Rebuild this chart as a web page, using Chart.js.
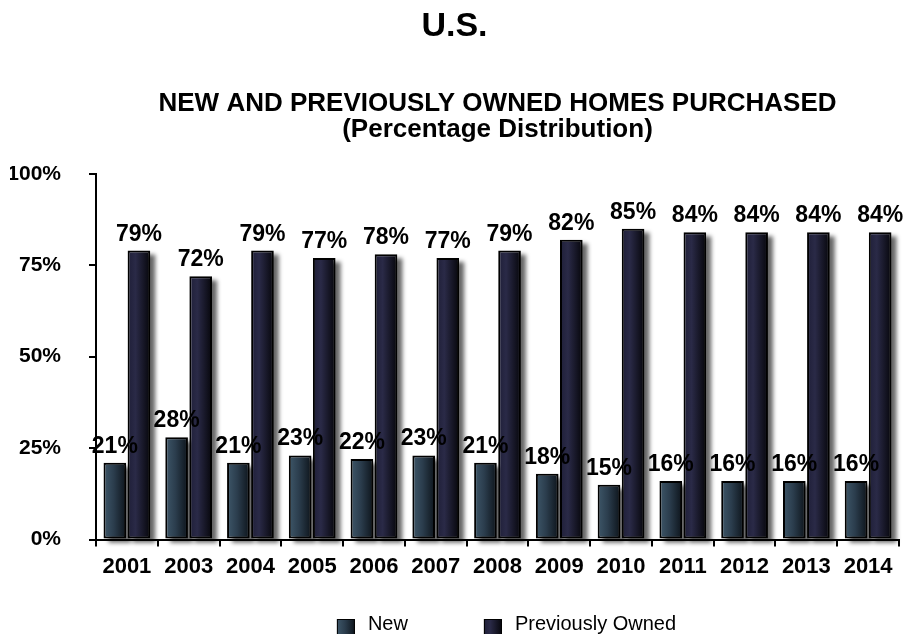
<!DOCTYPE html>
<html>
<head>
<meta charset="utf-8">
<title>U.S. - New and Previously Owned Homes Purchased</title>
<script src="https://cdn.jsdelivr.net/npm/chart.js@4.4.1/dist/chart.umd.min.js"></script>
<style>
  html, body { margin: 0; padding: 0; background: #fff; }
  #wrap { width: 906px; height: 634px; position: relative; }
</style>
</head>
<body>
<div id="wrap"><canvas id="homesChart"></canvas></div>
<script>
const years = ['2001', '2003', '2004', '2005', '2006', '2007', '2008', '2009', '2010', '2011', '2012', '2013', '2014'];
const newHomes = [21, 28, 21, 23, 22, 23, 21, 18, 15, 16, 16, 16, 16];
const previouslyOwned = [79, 72, 79, 77, 78, 77, 79, 82, 85, 84, 84, 84, 84];
const yTicks = [0, 25, 50, 75, 100];

const FONT = 'Arial, "Liberation Sans", sans-serif';

// horizontal gradient stops for each series (left edge -> right edge of a bar)
const fills = [
  [[0, '#3e5769'], [0.45, '#2b3d4d'], [1, '#0d141b']],
  [[0, '#1f1f38'], [0.35, '#2a2a47'], [1, '#06060b']]
];

function makeGradient(ctx, left, width, stops) {
  const g = ctx.createLinearGradient(left, 0, left + width, 0);
  stops.forEach(s => g.addColorStop(s[0], s[1]));
  return g;
}

// shading + drop shadow for every bar, done once the bars have their positions
const barShading = {
  id: 'barShading',
  beforeDatasetsDraw(chart) {
    const ctx = chart.ctx;
    ctx.save();
    ctx.filter = 'blur(2px)';
    ctx.fillStyle = 'rgba(0,0,0,0.6)';
    chart.data.datasets.forEach((ds, i) => {
      chart.getDatasetMeta(i).data.forEach(bar => {
        const left = bar.x - bar.width / 2;
        ctx.fillRect(left + 5, bar.y + 4, bar.width, bar.base - bar.y);
      });
    });
    ctx.restore();
    chart.data.datasets.forEach((ds, i) => {
      chart.getDatasetMeta(i).data.forEach(bar => {
        const left = bar.x - bar.width / 2;
        bar.options.backgroundColor = makeGradient(ctx, left, bar.width, fills[i]);
      });
    });
  }
};

// percentage above each bar
const valueLabels = {
  id: 'valueLabels',
  afterDatasetsDraw(chart) {
    const ctx = chart.ctx;
    ctx.save();
    ctx.font = 'bold 23px ' + FONT;
    ctx.fillStyle = '#000';
    ctx.textAlign = 'center';
    ctx.textBaseline = 'alphabetic';
    chart.data.datasets.forEach((ds, i) => {
      chart.getDatasetMeta(i).data.forEach((bar, j) => {
        ctx.fillText(ds.data[j] + '%', bar.x, bar.y - 10);
      });
    });
    ctx.restore();
  }
};

// legend row under the axis
const legendRow = {
  id: 'legendRow',
  afterDraw(chart) {
    const ctx = chart.ctx;
    const area = chart.chartArea;
    const box = 18, gap = 13, spacing = 76;
    ctx.save();
    ctx.font = '20px ' + FONT;
    const items = chart.data.datasets.map((ds, i) => ({
      label: ds.label, stops: fills[i], w: ctx.measureText(ds.label).width
    }));
    const total = items.reduce((s, it) => s + box + gap + it.w, 0) + spacing * (items.length - 1);
    let x = (area.left + area.right) / 2 - total / 2 + 9;
    const cy = chart.height - 6;
    items.forEach(it => {
      ctx.fillStyle = makeGradient(ctx, x, box, it.stops);
      ctx.fillRect(x, cy - box / 2, box, box);
      ctx.strokeStyle = '#000';
      ctx.lineWidth = 1;
      ctx.strokeRect(x + 0.5, cy - box / 2 + 0.5, box - 1, box - 1);
      ctx.fillStyle = '#000';
      ctx.textBaseline = 'alphabetic';
      ctx.fillText(it.label, x + box + gap, cy + 2);
      x += box + gap + it.w + spacing;
    });
    ctx.restore();
  }
};

const barStyle = {
  borderColor: '#000',
  borderWidth: 2,
  borderSkipped: false,
  categoryPercentage: 0.78,
  barPercentage: 0.94
};

new Chart(document.getElementById('homesChart'), {
  type: 'bar',
  data: {
    labels: years,
    datasets: [
      Object.assign({ label: 'New', data: newHomes, backgroundColor: () => '#2b3d4d' }, barStyle),
      Object.assign({ label: 'Previously Owned', data: previouslyOwned, backgroundColor: () => '#2a2a47' }, barStyle)
    ]
  },
  options: {
    responsive: true,
    maintainAspectRatio: false,
    animation: false,
    events: [],
    layout: { padding: { left: 10, right: 7, top: 0, bottom: 47 } },
    plugins: {
      legend: { display: false },
      tooltip: { enabled: false },
      title: {
        display: true,
        text: 'U.S.',
        color: '#000',
        font: { family: FONT, size: 34, weight: 'bold' },
        padding: { top: 6, bottom: 44 }
      },
      subtitle: {
        display: true,
        fullSize: false,
        text: ['NEW AND PREVIOUSLY OWNED HOMES PURCHASED', '(Percentage Distribution)'],
        color: '#000',
        font: { family: FONT, size: 26, weight: 'bold', lineHeight: 1.0 },
        padding: { top: 0, bottom: 31 }
      }
    },
    scales: {
      x: {
        grid: { display: true, drawOnChartArea: false, drawTicks: true, tickLength: 7, color: '#000', lineWidth: 2 },
        border: { display: true, color: '#000', width: 2 },
        ticks: { color: '#000', padding: 7, font: { family: FONT, size: 22, weight: 'bold' } }
      },
      y: {
        min: 0,
        max: 100,
        afterBuildTicks: scale => { scale.ticks = yTicks.map(v => ({ value: v })); },
        afterFit: scale => { scale.width = 86; },
        grid: { display: true, drawOnChartArea: false, drawTicks: true, tickLength: 7, color: '#000', lineWidth: 2 },
        border: { display: true, color: '#000', width: 2 },
        ticks: { color: '#000', padding: 28, font: { family: FONT, size: 21, weight: 'bold' }, callback: v => v + '%' }
      }
    }
  },
  plugins: [barShading, valueLabels, legendRow]
});
</script>
</body>
</html>
